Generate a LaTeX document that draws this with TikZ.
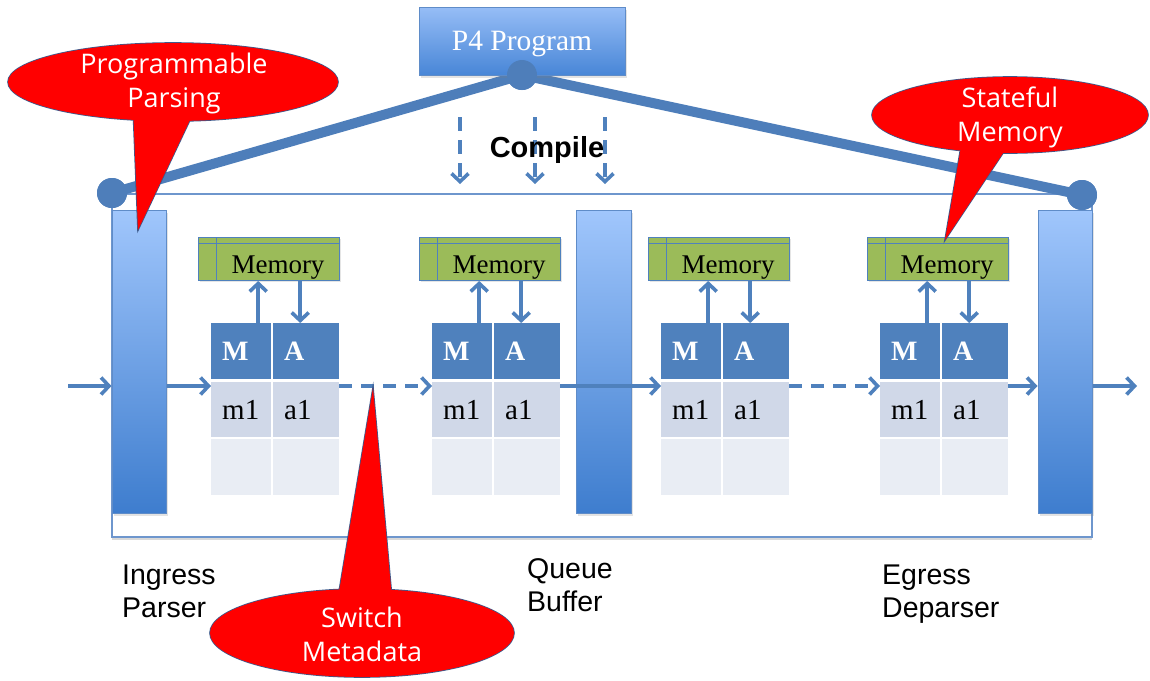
\documentclass[tikz,border=0pt]{standalone}
\usepackage{fontspec}
\setmainfont{Liberation Serif}
\setsansfont{Liberation Sans}
\newfontfamily\calloutfont{Open Sans}
\usetikzlibrary{arrows.meta,shadows,calc}

\definecolor{flowblue}{RGB}{79,129,189}
\definecolor{linkblue}{RGB}{78,126,186}
\definecolor{barline}{RGB}{95,140,200}
\definecolor{bartop}{RGB}{160,198,252}
\definecolor{barbot}{RGB}{62,125,206}
\definecolor{boxtop}{RGB}{150,189,246}
\definecolor{boxbot}{RGB}{72,134,215}
\definecolor{hdrblue}{RGB}{79,129,189}
\definecolor{rowone}{RGB}{208,216,232}
\definecolor{rowtwo}{RGB}{233,237,244}
\definecolor{memgreen}{RGB}{155,187,89}
\definecolor{calloutred}{RGB}{255,0,0}
\definecolor{calloutedge}{RGB}{60,90,140}
\definecolor{framecol}{RGB}{110,150,205}

\begin{document}
\begin{tikzpicture}[x=1pt,y=-1pt,
  softshadow/.style={drop shadow={opacity=0.22,shadow xshift=2pt,shadow yshift=-2.5pt}},
  stagebar/.style={draw=barline, line width=1pt, top color=bartop, bottom color=barbot,
    minimum width=54pt, minimum height=303pt, inner sep=0pt, softshadow},
  progbox/.style={draw=barline, line width=1pt, top color=boxtop, bottom color=boxbot,
    minimum width=206pt, minimum height=68pt, inner sep=0pt, text=white, text depth=0pt,
    font=\fontsize{29.5}{34}\selectfont, softshadow},
  joint/.style={circle, fill=linkblue, minimum size=30pt, inner sep=0pt},
  link/.style={draw=linkblue, line width=10pt},
  cell/.style={anchor=north west, inner xsep=11pt, inner ysep=0pt, align=left,
    font=\fontsize{29}{33}\selectfont},
  hdr/.style={cell, fill=hdrblue, text=white, minimum height=56pt,
    font=\bfseries\fontsize{28}{32}\selectfont},
  rowa/.style={cell, fill=rowone, minimum height=55pt},
  rowb/.style={cell, fill=rowtwo, minimum height=56pt},
  memory/.style={anchor=north west, draw=flowblue, line width=1pt, fill=memgreen,
    minimum width=141pt, minimum height=43pt, inner sep=0pt,
    drop shadow={opacity=0.2,shadow xshift=1.5pt,shadow yshift=-1.5pt}},
  memline/.style={draw=flowblue, line width=1pt},
  memtext/.style={anchor=base, inner sep=0pt, font=\fontsize{27}{31}\selectfont},
  flow/.style={draw=flowblue, line width=3.6pt, -{Straight Barb[length=8pt,width=17pt]}},
  dflow/.style={flow, dash pattern=on 13pt off 9pt},
  stagelabel/.style={anchor=north west, align=left, inner sep=0pt,
    font=\sffamily\fontsize{28.5}{33}\selectfont},
  callouttext/.style={anchor=north, align=center, inner sep=0pt, text=white,
    font=\calloutfont\fontsize{27}{34}\selectfont},
  bubbleedge/.style={draw=calloutedge, line width=1.6pt, line join=miter},
  bubblefill/.style={fill=calloutred}
]
\useasboundingbox (0,0) rectangle (1150,680);

% switch enclosure
\node[draw=framecol, line width=1.2pt, fill=white, minimum width=980pt, minimum height=343pt,
  inner sep=0pt, drop shadow={opacity=0.3,shadow xshift=0pt,shadow yshift=-2.5pt}]
  (frame) at (602,365.5) {};

% program links
\node[joint] (jtop) at (522,75) {};
\node[joint] (jleft) at (112,193) {};
\node[joint] (jright) at (1082,195) {};
\draw[link] (jtop.center) -- (jleft.center);
\draw[link] (jtop.center) -- (jright.center);

% parser, queue and deparser
\node[stagebar] (ing) at (139,361.5) {};
\node[stagebar, minimum width=55pt] (que) at (603.5,362) {};
\node[stagebar] (egr) at (1065,361.5) {};

% program box
\node[progbox] (p4) at (522,41) {P4 Program};
\node[joint] at (jtop) {};
\node[joint] at (jleft) {};
\node[joint] at (jright) {};

% match-action stages with their memories
\foreach \x [count=\i] in {211,432,661,880} {
  \node[hdr, text width=38pt] (M\i) at (\x,323) {M};
  \node[hdr, text width=44pt] (A\i) at (\x+62,323) {A};
  \node[rowa, text width=38pt] (ma\i) at (\x,382) {m1};
  \node[rowa, text width=44pt] (aa\i) at (\x+62,382) {a1};
  \node[rowb, text width=38pt] (mb\i) at (\x,439) {};
  \node[rowb, text width=44pt] (ab\i) at (\x+62,439) {};
  \node[memory] (mem\i) at (\x-13,237) {};
  \draw[memline] ([xshift=18pt]mem\i.north west) -- ([xshift=18pt]mem\i.south west);
  \draw[memline] ([yshift=-6pt]mem\i.north west) -- ([yshift=-6pt]mem\i.north east);
  \node[memtext] (mt\i) at (\x+67,273) {Memory};
  \draw[flow] ([xshift=17pt]M\i.north) -- ([xshift=17pt]M\i.north |- mem\i.south);
  \draw[flow] ([xshift=-6pt]A\i.north |- mem\i.south) -- ([xshift=-6pt]A\i.north);
}

% packet path
\coordinate (fy) at (0,386);
\coordinate (pin) at (68,386);
\coordinate (pout) at (1137,386);
\draw[flow] (pin) -- (ing.west |- fy);
\draw[flow] (ing.east |- fy) -- (ma1.west |- fy);
\draw[dflow] (aa1.east |- fy) -- (ma2.west |- fy);
\draw[flow] (aa2.east |- fy) -- (ma3.west |- fy);
\draw[dflow] (aa3.east |- fy) -- (ma4.west |- fy);
\draw[flow] (aa4.east |- fy) -- (egr.west |- fy);
\draw[flow] (egr.east |- fy) -- (pout);

% compile step
\foreach \cx [count=\k] in {460,535,605} {
  \coordinate (cs\k) at (\cx,117);
  \coordinate (ce\k) at (\cx,184);
  \draw[flow, dash pattern=on 14pt off 9pt] (cs\k) -- (ce\k);
}
\node[inner sep=0pt, text depth=0pt, font=\sffamily\bfseries\fontsize{29}{34}\selectfont]
  (compile) at (547,147) {Compile};

% stage names
\node[stagelabel] (lin) at (122,565) {Ingress\\Parser};
\node[stagelabel] (lqu) at (527,558) {Queue\\Buffer};
\node[stagelabel] (leg) at (882,565) {Egress\\Deparser};

% callouts
\draw[bubbleedge] (173,82) ellipse [x radius=165, y radius=39];
\draw[bubbleedge] (133,105) -- (138,230) -- (197,105) -- cycle;
\fill[bubblefill] (173,82) ellipse [x radius=165, y radius=39];
\fill[bubblefill] (133,105) -- (138,230) -- (197,105) -- cycle;
\node[callouttext] (cpp) at (174,53) {Programmable\\Parsing};

\draw[bubbleedge] (1010,115) ellipse [x radius=138, y radius=38];
\draw[bubbleedge] (963,135) -- (945,240) -- (1015,135) -- cycle;
\fill[bubblefill] (1010,115) ellipse [x radius=138, y radius=38];
\fill[bubblefill] (963,135) -- (945,240) -- (1015,135) -- cycle;
\node[callouttext] (csm) at (1010,87) {Stateful\\Memory};

\draw[bubbleedge] (362,633) ellipse [x radius=152, y radius=44];
\draw[bubbleedge] (336,610) -- (373,388) -- (393,610) -- cycle;
\fill[bubblefill] (362,633) ellipse [x radius=152, y radius=44];
\fill[bubblefill] (336,610) -- (373,388) -- (393,610) -- cycle;
\node[callouttext] (csw) at (362,607) {Switch\\Metadata};
\end{tikzpicture}
\end{document}
